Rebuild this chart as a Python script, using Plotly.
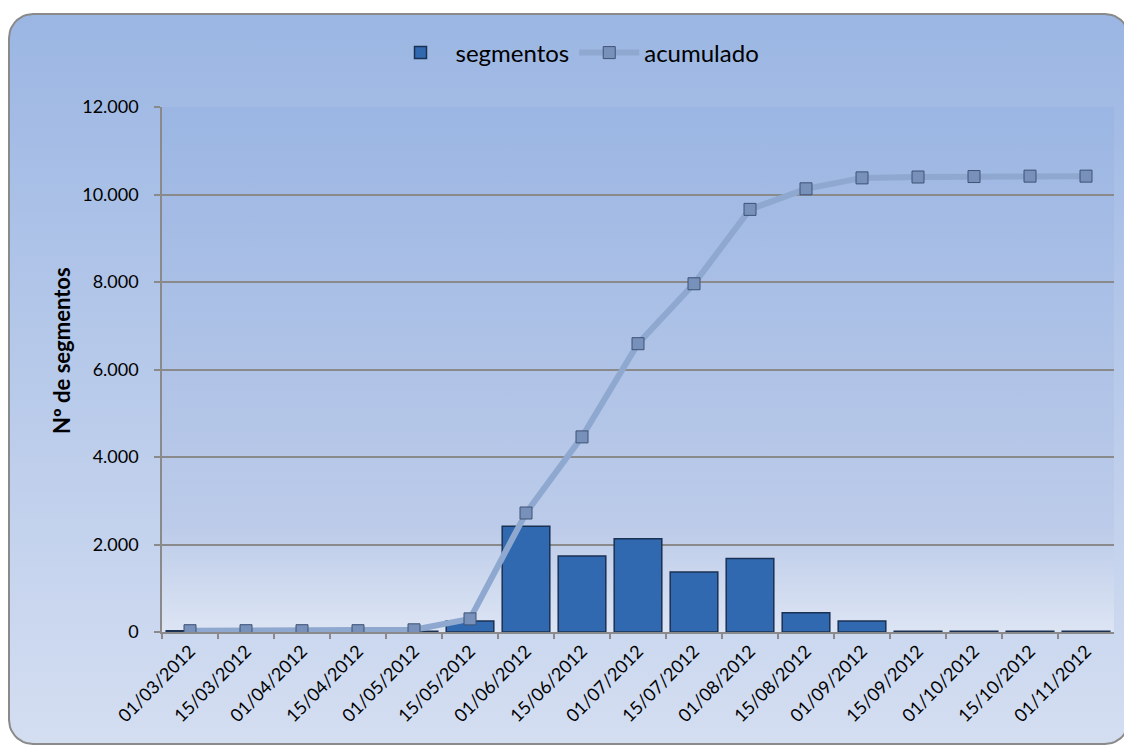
import plotly.graph_objects as go
import numpy as np

fechas = ["01/03/2012", "15/03/2012", "01/04/2012", "15/04/2012", "01/05/2012",
          "15/05/2012", "01/06/2012", "15/06/2012", "01/07/2012", "15/07/2012",
          "01/08/2012", "15/08/2012", "01/09/2012", "15/09/2012", "01/10/2012",
          "15/10/2012", "01/11/2012"]
segmentos = [30, 0, 0, 0, 20, 250, 2420, 1740, 2130, 1370, 1680, 440, 250,
             20, 15, 15, 15]
acumulado = [30, 30, 30, 30, 50, 300, 2720, 4460, 6590, 7960, 9660, 10130,
             10380, 10400, 10410, 10420, 10420]
y_ticks = [0, 2000, 4000, 6000, 8000, 10000, 12000]

# page body has an 8px margin: figure is drawn from (8, 8) of the window
OFF = 8
FW, FH = 1132 - OFF, 747 - OFF
FONT = "Lato"

def fx(tx):
    return tx - OFF

def fy(ty):
    return FH - (ty - OFF)

def rounded_rect(x0, y0, x1, y1, r, n=12):
    pts = []
    corners = [(x1 - r, y0 + r, -90, 0), (x1 - r, y1 - r, 0, 90),
               (x0 + r, y1 - r, 90, 180), (x0 + r, y0 + r, 180, 270)]
    for cx, cy, a0, a1 in corners:
        for a in np.linspace(np.radians(a0), np.radians(a1), n):
            pts.append((cx + r * np.cos(a), cy + r * np.sin(a)))
    pts.append(pts[0])
    return [fx(p[0]) for p in pts], [fy(p[1]) for p in pts]

fig = go.Figure()

bx, by = rounded_rect(9, 14, 1129, 744, 24)
fig.add_trace(go.Scatter(
    x=bx, y=by, mode="lines", fill="toself",
    line=dict(color="#8a8a8a", width=2),
    fillgradient=dict(type="vertical", start=fy(14), stop=fy(744),
                      colorscale=[[0, "#9bb6e3"], [1, "#d4def1"]]),
    xaxis="x", yaxis="y", showlegend=False, hoverinfo="skip"))

px0, px1, py0, py1 = 162, 1114, 107, 632
fig.add_trace(go.Scatter(
    x=[fx(px0), fx(px1), fx(px1), fx(px0), fx(px0)],
    y=[fy(py0), fy(py0), fy(py1), fy(py1), fy(py0)],
    mode="lines", fill="toself", line=dict(width=0, color="rgba(0,0,0,0)"),
    fillgradient=dict(type="vertical", start=fy(py0), stop=fy(py1),
                      colorscale=[[0, "#9bb6e3"], [0.8, "#bccbe9"], [1, "#dde5f4"]]),
    xaxis="x", yaxis="y", showlegend=False, hoverinfo="skip"))

fig.add_trace(go.Bar(
    x=fechas, y=segmentos, name="segmentos",
    marker=dict(color="#3169b0", line=dict(color="#1b3153", width=1.5)),
    xaxis="x2", yaxis="y2"))

fig.add_trace(go.Scatter(
    x=fechas, y=acumulado, name="acumulado", mode="lines+markers",
    line=dict(color="#8ea8cf", width=6),
    marker=dict(symbol="square", size=12, color="#7791bb",
                line=dict(color="#3e5275", width=1)),
    xaxis="x2", yaxis="y2"))

fig.update_layout(
    width=FW, height=FH,
    margin=dict(l=0, r=0, t=0, b=0, pad=0, autoexpand=False),
    paper_bgcolor="white",
    plot_bgcolor="rgba(0,0,0,0)",
    separators=",.",
    font=dict(family=FONT, color="#000000", size=18),
    bargap=0.15,
    xaxis=dict(domain=[0, 1], range=[0, FW], visible=False, fixedrange=True),
    yaxis=dict(domain=[0, 1], range=[0, FH], visible=False, fixedrange=True),
    xaxis2=dict(domain=[fx(px0) / FW, fx(px1) / FW], anchor="y2",
                type="category", range=[-0.5, len(fechas) - 0.5],
                tickangle=-45, tickson="boundaries",
                ticks="outside", ticklen=5, tickcolor="#8a8a8a", tickwidth=1.5,
                showline=True, linecolor="#8a8a8a", linewidth=1.5,
                showgrid=False, tickfont=dict(size=18, family=FONT)),
    yaxis2=dict(domain=[fy(py1) / FH, fy(py0) / FH], anchor="x2",
                range=[0, 12000], tickvals=y_ticks, tickformat=",d",
                ticks="outside", ticklen=6, tickcolor="#8a8a8a", tickwidth=1.5,
                ticklabelstandoff=12,
                showline=True, linecolor="#8a8a8a", linewidth=1.5,
                showgrid=True, gridcolor="#8a8a8a", gridwidth=1.5,
                zeroline=False, tickfont=dict(size=18, family=FONT)),
    legend=dict(orientation="h", x=fx(575) / FW, xanchor="center",
                y=fy(53) / FH, yanchor="middle", font=dict(size=24, family=FONT),
                bgcolor="rgba(0,0,0,0)", itemwidth=60),
    annotations=[dict(text="<b>Nº de segmentos</b>", x=fx(61) / FW, y=fy(351) / FH,
                      xref="paper", yref="paper", xanchor="center", yanchor="middle",
                      textangle=-90, showarrow=False,
                      font=dict(size=22, family=FONT))],
)

fig.write_html("out.html")
